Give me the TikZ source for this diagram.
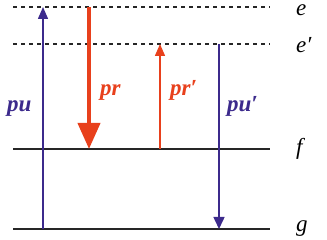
\documentclass[tikz,border=0pt]{standalone}
\usepackage{fontspec}
\setmainfont{Liberation Serif}
\usetikzlibrary{arrows.meta}
\definecolor{pur}{HTML}{3C2A8C}
\definecolor{rd}{HTML}{E8401C}
\begin{document}
\begin{tikzpicture}[x=1pt,y=-1pt,
  level/.style={line width=2pt,black!85},
  virt/.style={line width=1.3pt,dash pattern=on 4pt off 4pt,black!85},
  lbl/.style={font=\fontsize{23}{23}\selectfont\bfseries\itshape,inner sep=0pt,anchor=base west},
  lev/.style={font=\fontsize{23}{23}\selectfont\itshape,inner sep=0pt,anchor=base west}]
\useasboundingbox (0,0) rectangle (327,240);
% levels
\coordinate (eL) at (13,7);   \coordinate (eR) at (270,7);
\coordinate (epL) at (13,44); \coordinate (epR) at (270,44);
\coordinate (fL) at (13,149); \coordinate (fR) at (270,149);
\coordinate (gL) at (13,229); \coordinate (gR) at (270,229);
\draw[virt] (eL) -- (eR);
\draw[virt] (epL) -- (epR);
\draw[level] (fL) -- (fR);
\draw[level] (gL) -- (gR);
% arrow endpoints
\coordinate (puA) at (43,229);  \coordinate (puB) at (43,7);
\coordinate (prA) at (89,7);    \coordinate (prB) at (89,149);
\coordinate (prpA) at (160,149);\coordinate (prpB) at (160,44);
\coordinate (pupA) at (219,44); \coordinate (pupB) at (219,229);
\draw[pur,line width=1.5pt,-{Triangle[length=12pt,width=10pt]}] (puA) -- (puB);
\draw[rd,line width=4pt,-{Triangle[length=26pt,width=22pt]}] (prA) -- (prB);
\draw[rd,line width=1.5pt,-{Triangle[length=12pt,width=10pt]}] (prpA) -- (prpB);
\draw[pur,line width=1.5pt,-{Triangle[length=12pt,width=11pt]}] (pupA) -- (pupB);
% labels
\node[lbl,text=pur] (lpu) at (7,112) {pu};
\node[lbl,text=rd] (lpr) at (100,96) {pr};
\node[lbl,text=rd] (lprp) at (170,96) {pr′};
\node[lbl,text=pur] (lpup) at (227,112) {pu′};
\node[lev] (le) at (296,16) {e};
\node[lev] (lep) at (296,53) {e′};
\node[lev] (lf) at (296,155) {f};
\node[lev] (lg) at (296,232) {g};
\end{tikzpicture}
\end{document}
